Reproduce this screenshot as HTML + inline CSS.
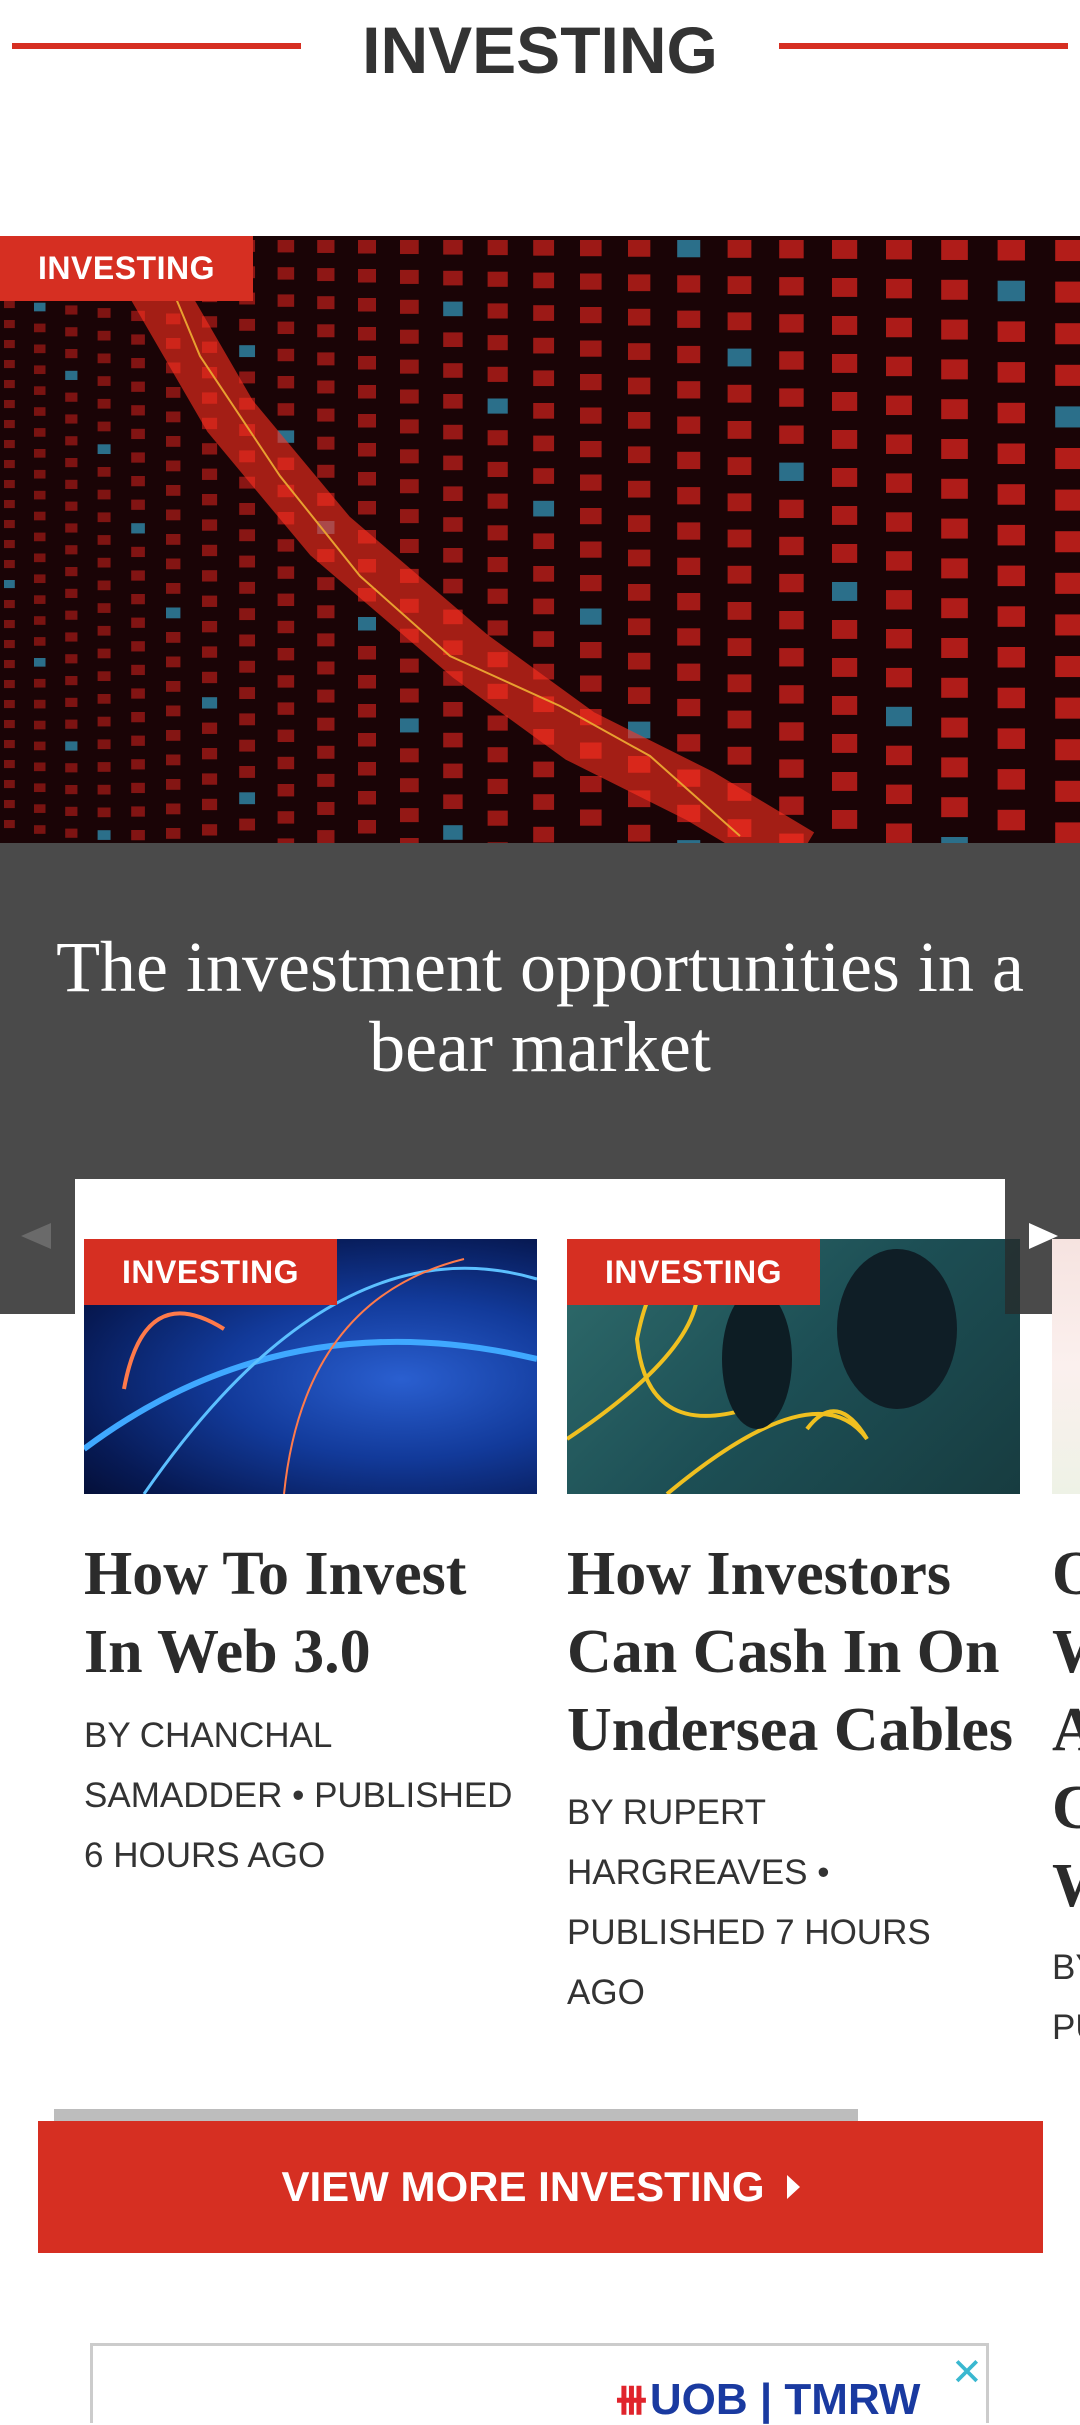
<!DOCTYPE html>
<html><head><meta charset="utf-8"><style>
*{margin:0;padding:0;box-sizing:border-box}
body{width:1080px;height:2400px;background:#fff;position:relative;overflow:hidden;font-family:"Liberation Sans",Arial,sans-serif}
.abs{position:absolute}
.tag{position:absolute;background:#d62f22;color:#fff;font-weight:bold;font-size:32px;display:flex;align-items:center;justify-content:center;letter-spacing:0.5px}
.title{position:absolute;font-family:"Liberation Serif",serif;font-weight:bold;font-size:62px;line-height:78px;color:#2b2b2b;white-space:nowrap}
.by{position:absolute;font-size:35px;line-height:60px;color:#333;white-space:nowrap}
</style></head><body>
<div class="abs" style="left:12px;top:43px;width:289px;height:6px;background:#d62f22"></div>
<div class="abs" style="left:779px;top:43px;width:289px;height:6px;background:#d62f22"></div>
<div class="abs" style="left:0;width:1080px;top:12px;text-align:center;font-weight:bold;font-size:66px;line-height:76px;color:#333">INVESTING</div>

<div class="abs" style="left:0;top:236px;width:1080px;height:607px;background:#1a0406;overflow:hidden">
<svg id="hero" width="1080" height="607"></svg></div>
<div class="tag" style="left:0;top:236px;width:253px;height:65px">INVESTING</div>

<div class="abs" style="left:0;top:843px;width:1080px;height:471px;background:#4a4a4a"></div>
<div class="abs" style="left:0;top:927px;width:1080px;text-align:center;font-family:'Liberation Serif',serif;font-size:72px;line-height:80px;color:#fff;white-space:nowrap">The investment opportunities in a<br>bear market</div>

<div class="abs" style="left:75px;top:1179px;width:930px;height:140px;background:#fff"></div>
<div class="abs" style="left:21px;top:1223px;width:0;height:0;border-top:13px solid transparent;border-bottom:13px solid transparent;border-right:30px solid #6a6a6a"></div>
<div class="abs" style="left:1029px;top:1223px;width:0;height:0;border-top:13px solid transparent;border-bottom:13px solid transparent;border-left:29px solid #fff"></div>

<div class="abs" style="left:84px;top:1239px;width:453px;height:255px;background:radial-gradient(ellipse at 70% 55%,#2a5fd0 0%,#123a9a 40%,#071a55 75%,#030a2a 100%);overflow:hidden">
<svg width="453" height="255"><path d="M0 210 Q200 60 453 120" stroke="#3fa8ff" stroke-width="6" fill="none"/><path d="M60 255 Q250 -20 453 40" stroke="#5cc0ff" stroke-width="3" fill="none"/><path d="M40 150 Q60 40 140 90" stroke="#ff7a4a" stroke-width="4" fill="none"/><path d="M200 255 Q220 60 380 20" stroke="#ff7a4a" stroke-width="2" fill="none"/></svg></div>
<div class="tag" style="left:84px;top:1239px;width:253px;height:66px">INVESTING</div>
<div class="title" style="left:84px;top:1535px">How To Invest<br>In Web 3.0</div>
<div class="by" style="left:84px;top:1706px">BY CHANCHAL<br>SAMADDER • PUBLISHED<br>6 HOURS AGO</div>

<div class="abs" style="left:567px;top:1239px;width:453px;height:255px;background:linear-gradient(135deg,#2f6c6c,#1d4f55 50%,#173c40);overflow:hidden">
<svg width="453" height="255"><path d="M0 200 Q120 120 130 60 Q90 0 70 100 Q80 200 180 170" stroke="#f0c020" stroke-width="4" fill="none"/><path d="M100 255 Q250 130 300 200 Q270 150 240 190" stroke="#f0c020" stroke-width="4" fill="none"/><ellipse cx="190" cy="120" rx="35" ry="70" fill="#0d1d24"/><ellipse cx="330" cy="90" rx="60" ry="80" fill="#0f1e26"/></svg>
<div class="abs" style="right:0;top:0;width:15px;height:75px;background:rgba(40,40,40,.7)"></div></div>
<div class="tag" style="left:567px;top:1239px;width:253px;height:66px">INVESTING</div>
<div class="title" style="left:567px;top:1535px">How Investors<br>Can Cash In On<br>Undersea Cables</div>
<div class="by" style="left:567px;top:1783px">BY RUPERT<br>HARGREAVES •<br>PUBLISHED 7 HOURS<br>AGO</div>

<div class="abs" style="left:1052px;top:1239px;width:60px;height:255px;background:linear-gradient(180deg,#f6e3e0,#fbf0ee 50%,#eef2e6)"></div>
<div class="title" style="left:1052px;top:1535px">O<br>W<br>A<br>C<br>W</div>
<div class="by" style="left:1052px;top:1938px">BY<br>PU</div>

<div class="abs" style="left:54px;top:2109px;width:804px;height:12px;background:#bdbdbd"></div>
<div class="abs" style="left:38px;top:2121px;width:1005px;height:132px;background:#d62f22;color:#fff;font-weight:bold;font-size:42px;display:flex;align-items:center;justify-content:center">VIEW MORE INVESTING<span style="display:inline-block;margin-left:22px;width:0;height:0;border-top:12px solid transparent;border-bottom:12px solid transparent;border-left:13px solid #fff"></span></div>

<div class="abs" style="left:90px;top:2343px;width:899px;height:80px;border:3px solid #ccc;border-bottom:none;background:#fff">
<div class="abs" style="left:520px;top:28px;font-weight:bold;font-size:44px;color:#1a3aa0;white-space:nowrap"><span style="color:#e0242c">⧻</span>UOB | TMRW</div>
<div class="abs" style="left:858px;top:4px;font-size:38px;color:#3ab8d0">✕</div></div>

<script>
var s=document.getElementById('hero'),ns='http://www.w3.org/2000/svg';
for(var r=0;r<30;r++){for(var c=0;c<34;c++){
 var cw=18+c*1.2, x=0; for(var k=0;k<c;k++) x+=18+k*1.2+12;
 if(x>1080) continue;
 var y=r*(20+c*0.9);
 var w=cw*0.6, h=cw*0.45;
 var e=document.createElementNS(ns,'rect');
 e.setAttribute('x',x+4);e.setAttribute('y',y+4);e.setAttribute('width',w);e.setAttribute('height',h);
 var blue=((r*7+c*13)%17)==0;
 e.setAttribute('fill',blue?'#2b6f8a':'rgba(215,35,30,'+(0.5+0.45*c/34)+')');
 s.appendChild(e);}}
var p=document.createElementNS(ns,'path');
p.setAttribute('d','M120 -10 L230 180 L330 300 L470 420 L580 500 L700 560 L800 620');
p.setAttribute('stroke','#ff3020');p.setAttribute('stroke-width','55');p.setAttribute('fill','none');p.setAttribute('opacity','0.6');
s.appendChild(p);
var q=document.createElementNS(ns,'path');
q.setAttribute('d','M150 0 L200 120 L280 240 L360 340 L450 420 L560 470 L650 520 L740 600');
q.setAttribute('stroke','#e8a030');q.setAttribute('stroke-width','2');q.setAttribute('fill','none');
s.appendChild(q);
</script>
</body></html>
